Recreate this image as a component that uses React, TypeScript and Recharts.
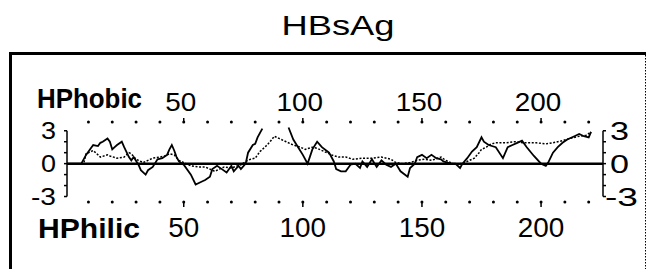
import React from "react";
import { LineChart, Line, XAxis, YAxis, ReferenceLine } from "recharts";

// residue positions and values, solid profile
const solidPos = [1,7,9,11,12,14,15,16,18,19,20,21,22,24,25,27,28,29,31,32,34,35,37,39,41,43,44,45,46,47,48,50,53,55,57,59,61,62,64,66,68,70,71,73,74,76,77,79,80,81,83,84,93,94,96,98,100,102,104,106,108,111,113,114,116,118,120,122,124,125,127,129,131,133,135,137,139,141,144,145,147,148,150,152,154,156,158,159,162,164,166,167,169,171,173,175,176,178,181,184,186,188,190,192,194,197,200,202,203,205,207,209,211,214,216,218,220,221];
const solidVal: (number | null)[] = [0,0,0.8,1.4,1.7,1.6,1.9,2.0,2.3,2.0,1.3,1.5,1.7,2.0,1.5,0.6,0.3,0.6,-0.1,-0.6,-1.0,-0.6,-0.3,0.4,0.5,0.8,1.3,1.7,1.2,0.6,0.2,-0.1,-1.0,-1.9,-1.7,-1.5,-1.2,-0.5,-0.2,-0.5,-0.8,-0.2,-0.7,-0.2,-0.5,0,1.0,1.7,1.8,2.4,3.2,null,null,3.3,2.2,1.5,0.8,0,1.3,2.0,1.5,1.0,0.2,-0.5,-0.7,-0.7,-0.1,0,-0.4,0.2,-0.3,0.4,-0.3,0.3,-0.1,-0.3,0,-0.7,-1.2,-0.4,0,0.6,0.8,0.5,0.8,0.5,0.4,0.2,0,0,-0.4,0,0.5,1.1,1.5,2.4,2.0,1.7,1.5,0.5,1.5,1.7,1.9,2.1,1.5,0.7,0,-0.2,0.1,1.0,1.5,1.9,2.2,2.5,2.7,2.5,2.4,2.9];

// dotted profile
const dottedPos = [1,8,9,12,15,18,19,22,25,27,28,30,33,35,37,40,42,44,46,48,51,53,56,59,61,63,65,67,70,74,76,78,80,82,84,85,87,88,90,91,93,96,99,101,104,106,109,112,115,118,121,125,129,133,137,139,142,145,148,151,154,158,160,163,166,168,170,172,174,175,177,179,181,185,189,193,198,202,205,207,209,212,216,219,221];
const dottedVal = [0,0,0.9,1.2,0.6,0.8,0.7,0.5,0.6,1.0,0.9,0.4,0.1,0.3,0.5,0.6,0.7,0.9,0.8,0.3,0,-0.2,-0.3,-0.3,-0.5,-0.7,-0.5,-0.3,-0.4,-0.1,0.2,0.4,0.5,1.1,1.5,1.7,2.2,2.5,2.3,2.2,2.0,1.7,1.5,1.3,1.5,1.4,1.1,0.8,0.6,0.6,0.4,0.5,0.5,0.6,0.4,0.1,0,0.1,0.3,0.4,0.3,0.6,0.3,0,0,0.1,0.3,0.5,1.0,1.3,1.5,1.8,1.9,1.9,2.0,1.9,1.9,1.8,1.9,2.0,2.1,2.3,2.5,2.6,2.9];

const xTicks = [10,20,30,40,50,60,70,80,90,100,110,120,130,140,150,160,170,180,190,200,210,220];
const yTicks = [-3,-2,-1,0,1,2,3];
const yLabels = [-3, 0, 3];
const xDomain = [1, 226];
const yDomain = [-3.5, 3.8];
const title = "HBsAg";
const topLabel = "HPhobic";
const bottomLabel = "HPhilic";

const solidData = solidPos.map((p, i) => ({ pos: p, v: solidVal[i] }));
const dottedData = dottedPos.map((p, i) => ({ pos: p, v: dottedVal[i] }));

const FONT = "'Liberation Sans', Arial, Helvetica, sans-serif";

const numW = (v: number, k: number) => String(v).length * k;

const TopTick = (props: any) => {
  const { x, y, payload } = props;
  const v = payload.value;
  const major = v % 50 === 0;
  return (
    <g>
      <circle cx={x} cy={y} r={1.5} fill="#000" />
      {major && <line x1={x} x2={x} y1={y - 4} y2={y + 1} stroke="#000" strokeWidth={1.5} />}
      {major && (
        <text x={x - 3} y={y - 11} textAnchor="middle" fontSize={25} fontFamily={FONT} fill="#000"
          textLength={numW(v, 15.5)} lengthAdjust="spacingAndGlyphs">{v}</text>
      )}
    </g>
  );
};

const BottomTick = (props: any) => {
  const { x, y, payload } = props;
  const v = payload.value;
  const major = v % 50 === 0;
  return (
    <g>
      <circle cx={x} cy={y} r={1.5} fill="#000" />
      {major && <line x1={x} x2={x} y1={y - 1} y2={y + 5} stroke="#000" strokeWidth={1.5} />}
      {major && (
        <text x={x} y={y + 35} textAnchor="middle" fontSize={28} fontFamily={FONT} fill="#000"
          textLength={numW(v, 15.5)} lengthAdjust="spacingAndGlyphs">{v}</text>
      )}
    </g>
  );
};

const LeftTick = (props: any) => {
  const { x, y, payload } = props;
  const v = payload.value;
  if (!yLabels.includes(v)) return <g />;
  const s = String(v);
  return (
    <text x={x - 8} y={y + 8} textAnchor="end" fontSize={23} fontFamily={FONT} fill="#000"
      textLength={s.length === 1 ? 15 : 25} lengthAdjust="spacingAndGlyphs">{s}</text>
  );
};

const RightTick = (props: any) => {
  const { x, y, payload } = props;
  const v = payload.value;
  if (!yLabels.includes(v)) return <g />;
  const s = String(v);
  return (
    <text x={x + (s.length === 1 ? 4 : -1)} y={y + 9} textAnchor="start" fontSize={25} fontFamily={FONT} fill="#000"
      textLength={s.length === 1 ? 19 : 33} lengthAdjust="spacingAndGlyphs">{s}</text>
  );
};

export default function App() {
  return (
    <div style={{ position: "absolute", left: 0, top: 0, width: 647, height: 269, background: "#fff", overflow: "hidden" }}>
      <svg width={647} height={269} style={{ position: "absolute", left: 0, top: 0 }}>
        <text x={338} y={35} textAnchor="middle" fontSize={28} fontFamily={FONT} fill="#000"
          textLength={113} lengthAdjust="spacingAndGlyphs">{title}</text>
        <line x1={9} x2={646} y1={53.5} y2={53.5} stroke="#000" strokeWidth={3} />
        <line x1={10.5} x2={10.5} y1={52} y2={269} stroke="#000" strokeWidth={3} />
        <line x1={645.5} x2={645.5} y1={55} y2={269} stroke="#000" strokeWidth={1} strokeDasharray="1.5 1.5" />
        <text x={37} y={108} fontSize={28} fontWeight="bold" fontFamily={FONT} fill="#000"
          textLength={105} lengthAdjust="spacingAndGlyphs">{topLabel}</text>
        <text x={38} y={238} fontSize={28} fontWeight="bold" fontFamily={FONT} fill="#000"
          textLength={102} lengthAdjust="spacingAndGlyphs">{bottomLabel}</text>
      </svg>
      <div style={{ position: "absolute", left: 0, top: 0 }}>
        <LineChart width={647} height={269} margin={{ top: 92, right: 0, bottom: 37, left: 37 }}>
          <XAxis xAxisId="top" orientation="top" type="number" dataKey="pos" domain={xDomain} ticks={xTicks}
            height={30} axisLine={false} tickLine={false} tickSize={0} tickMargin={0} tick={<TopTick />} interval={0} allowDataOverflow />
          <XAxis xAxisId="bottom" orientation="bottom" type="number" dataKey="pos" domain={xDomain} ticks={xTicks}
            height={30} axisLine={false} tickLine={false} tickSize={0} tickMargin={0} tick={<BottomTick />} interval={0} allowDataOverflow />
          <YAxis yAxisId="left" orientation="left" type="number" domain={yDomain} ticks={yTicks} width={30}
            axisLine={false} tickSize={3} tickMargin={0} tickLine={{ stroke: "#000", strokeWidth: 1.5 }} tick={<LeftTick />} interval={0} allowDataOverflow />
          <YAxis yAxisId="right" orientation="right" type="number" domain={yDomain} ticks={yTicks} width={44}
            axisLine={false} tickSize={3} tickMargin={0} tickLine={{ stroke: "#000", strokeWidth: 1.5 }} tick={<RightTick />} interval={0} allowDataOverflow />
          <ReferenceLine xAxisId="bottom" yAxisId="left" y={0} stroke="#000" strokeWidth={2.5} />
          <ReferenceLine xAxisId="bottom" yAxisId="left" segment={[{ x: 1, y: -3 }, { x: 1, y: 3 }]} stroke="#000" strokeWidth={1.5} />
          <ReferenceLine xAxisId="top" yAxisId="right" segment={[{ x: 226, y: -3 }, { x: 226, y: 3 }]} stroke="#000" strokeWidth={1.5} />
          <Line xAxisId="top" yAxisId="right" data={dottedData} dataKey="v" type="linear" stroke="#000"
            strokeWidth={1.5} strokeDasharray="2 1.6" dot={false} isAnimationActive={false} />
          <Line xAxisId="bottom" yAxisId="left" data={solidData} dataKey="v" type="linear" stroke="#000"
            strokeWidth={1.8} dot={false} isAnimationActive={false} />
        </LineChart>
      </div>
    </div>
  );
}
